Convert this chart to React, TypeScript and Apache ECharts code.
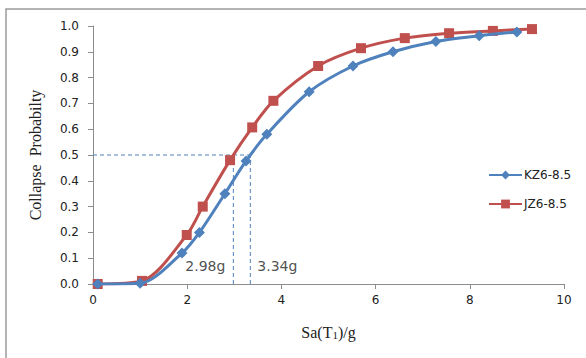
import React, { useEffect, useRef } from "react";
import * as echarts from "echarts";

const kzX = [0.1, 1.0, 1.89, 2.26, 2.8, 3.25, 3.69, 4.59, 5.52, 6.37, 7.28, 8.2, 9.0];
const kzY = [0.0, 0.003, 0.12, 0.2, 0.35, 0.477, 0.58, 0.745, 0.845, 0.9, 0.94, 0.962, 0.977];
const jzX = [0.1, 1.04, 1.99, 2.33, 2.91, 3.38, 3.83, 4.78, 5.69, 6.62, 7.56, 8.49, 9.32];
const jzY = [0.0, 0.012, 0.19, 0.3, 0.48, 0.607, 0.71, 0.845, 0.914, 0.953, 0.972, 0.981, 0.988];
const seriesNames = ["KZ6-8.5", "JZ6-8.5"];
const thresholds = [2.98, 3.34];
const thresholdLabels = ["2.98g", "3.34g"];
const probLevel = 0.5;
const labelY = 0.07;

const BLUE = "#4F81BD";
const RED = "#C0504D";

export default function App() {
  const ref = useRef<HTMLDivElement>(null);
  useEffect(() => {
    document.body.style.margin = "0";
    const chart = echarts.init(ref.current!, undefined, { renderer: "svg" });
    const tickFont = "DejaVu Sans";
    chart.setOption({
      animation: false,
      backgroundColor: "#fff",
      graphic: [
        {
          type: "rect",
          shape: { x: 6, y: 9, width: 700, height: 500 },
          style: { fill: "none", stroke: "#9a9a9a", lineWidth: 1.5 },
          silent: true,
          z: -1,
        },
      ],
      grid: { left: 93, right: 22, top: 26, bottom: 74 },
      legend: {
        left: 483,
        top: 164,
        orient: "vertical",
        itemGap: 17,
        itemWidth: 33,
        itemHeight: 11,
        textStyle: { fontFamily: tickFont, fontSize: 12, color: "#222", padding: [0, 0, 0, -3] },
        data: seriesNames,
      },
      xAxis: {
        type: "value",
        min: 0,
        max: 10,
        interval: 2,
        name: "{a|Sa(T}{b|1}{a|)/g}",
        nameLocation: "middle",
        nameGap: 40,
        nameTextStyle: {
          rich: {
            a: { fontFamily: "Liberation Serif", fontSize: 16, color: "#222" },
            b: { fontFamily: "Liberation Serif", fontSize: 11, color: "#222", verticalAlign: "bottom", padding: [4, 0, 0, 0] },
          },
        },
        axisLine: { lineStyle: { color: "#8c8c8c", width: 1 } },
        axisTick: { show: true, length: 5, lineStyle: { color: "#8c8c8c" } },
        axisLabel: { fontFamily: tickFont, fontSize: 12, color: "#222", margin: 10 },
        splitLine: { show: false },
      },
      yAxis: {
        type: "value",
        min: 0,
        max: 1,
        interval: 0.1,
        name: "Collapse  Probabilty",
        nameLocation: "middle",
        nameGap: 50,
        nameTextStyle: { fontFamily: "Liberation Serif", fontSize: 16, color: "#222" },
        axisLine: { show: true, lineStyle: { color: "#8c8c8c", width: 1 } },
        axisTick: { show: true, length: 5, lineStyle: { color: "#8c8c8c" } },
        axisLabel: {
          fontFamily: tickFont,
          fontSize: 12,
          color: "#222",
          margin: 14,
          formatter: (v: number) => v.toFixed(1),
        },
        splitLine: { show: false },
      },
      series: [
        {
          name: "dash-h",
          type: "line",
          data: [[0, probLevel], [thresholds[1], probLevel]],
          symbol: "none",
          lineStyle: { color: BLUE, width: 1, type: [4, 3] },
          silent: true,
          z: 1,
        },
        ...thresholds.map((t, i) => ({
          name: "dash-v" + i,
          type: "line",
          data: [[t, 0], [t, probLevel]],
          symbol: "none",
          lineStyle: { color: BLUE, width: 1, type: [4, 3] },
          silent: true,
          z: 1,
        })),
        {
          name: "labels",
          type: "scatter",
          symbolSize: 0,
          silent: true,
          data: thresholds.map((t, i) => ({
            value: [t, labelY],
            label: {
              show: true,
              position: i === 0 ? "left" : "right",
              distance: i === 0 ? 8 : 7,
              formatter: thresholdLabels[i],
              fontFamily: tickFont,
              fontSize: 14,
              color: "#222",
            },
          })),
        },
        {
          name: seriesNames[0],
          type: "line",
          data: kzX.map((x, i) => [x, kzY[i]]),
          smooth: 0.3,
          symbol: "diamond",
          symbolSize: 11,
          itemStyle: { color: BLUE },
          lineStyle: { color: BLUE, width: 3 },
          z: 3,
        },
        {
          name: seriesNames[1],
          type: "line",
          data: jzX.map((x, i) => [x, jzY[i]]),
          smooth: 0.3,
          symbol: "rect",
          symbolSize: 10,
          itemStyle: { color: RED },
          lineStyle: { color: RED, width: 3 },
          z: 2,
        },
      ],
    });
    return () => chart.dispose();
  }, []);
  return <div ref={ref} style={{ width: 586, height: 358 }} />;
}
